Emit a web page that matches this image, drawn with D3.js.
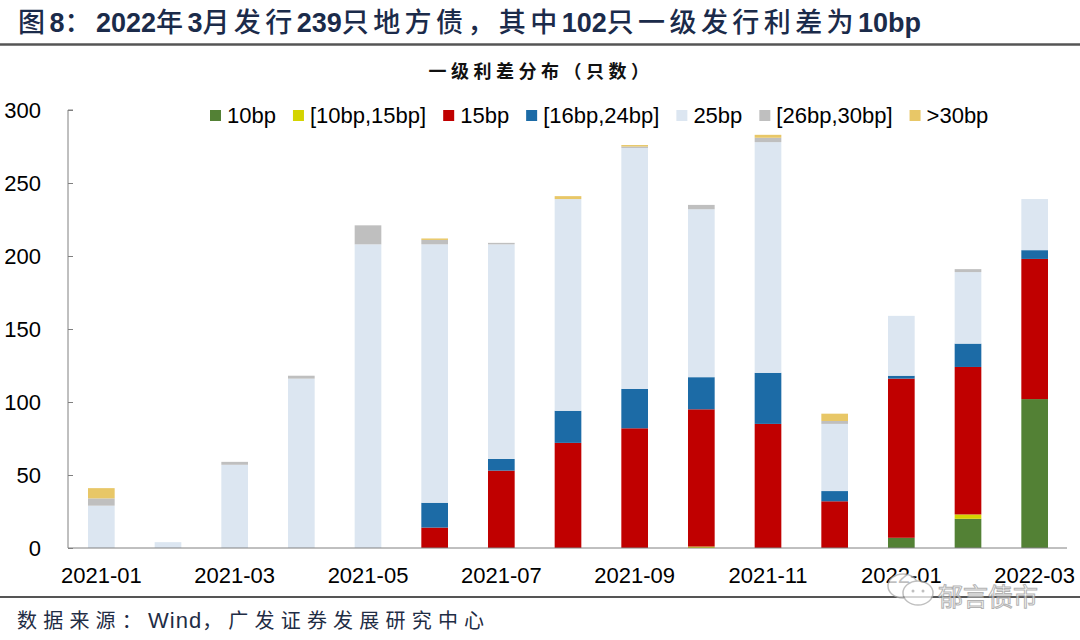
<!DOCTYPE html>
<html><head><meta charset="utf-8">
<script src="https://cdn.jsdelivr.net/npm/d3@7/dist/d3.min.js"></script>
<style>body{margin:0;background:#fff;}svg{display:block;}</style>
</head><body>
<svg id="chart" width="1080" height="640"></svg>
<script>
const months = ["2021-01","2021-02","2021-03","2021-04","2021-05","2021-06","2021-07","2021-08","2021-09","2021-10","2021-11","2021-12","2022-01","2022-02","2022-03"];
const seriesNames = ["10bp","[10bp,15bp]","15bp","[16bp,24bp]","25bp","[26bp,30bp]",">30bp"];
const s10    = [0,0,0,0,0,0,0,0,0,0,0,0,7,20,102];
const s10_15 = [0,0,0,0,0,0,0,0,0,1,0,0,0,3,0];
const s15    = [0,0,0,0,0,14,53,72,82,94,85,32,109,101,96];
const s16_24 = [0,0,0,0,0,17,8,22,27,22,35,7,2,16,6];
const s25    = [29,4,57,116,208,177,147,145,165,115,158,46,41,49,35];
const s26_30 = [5,0,2,2,13,3,1,0,1,3,3,2,0,2,0];
const s30    = [7,0,0,0,0,1,0,2,1,0,2,5,0,0,0];
const yTicks = [0,50,100,150,200,250,300];
const xTickLabels = ["2021-01","2021-03","2021-05","2021-07","2021-09","2021-11","2022-01","2022-03"];
const colors = ["#538135","#d4d400","#c00000","#1c6ba6","#dce6f1","#bfbfbf","#e8c767"];

(function(){
const allSeries = [s10,s10_15,s15,s16_24,s25,s26_30,s30];
const table = months.map((m,i)=>{const o={month:m}; seriesNames.forEach((k,j)=>o[k]=allSeries[j][i]); return o;});

const svg = d3.select("#chart");
const pL = 68, pR = 1068, pT = 110, pB = 548;
const x = d3.scaleBand().domain(months).range([pL,pR]).paddingInner(0.6).paddingOuter(0.3);
const y = d3.scaleLinear().domain([0,300]).range([pB,pT]);

// Title
const titleSegs = [["图","c"],["8","d"],["：","c"],["2022","d"],["年","c"],["3","d"],["月发行","c"],["239","d"],["只地方债，其中","c"],["102","d"],["只一级发行利差为","c"],["10bp","d"]];
const title = svg.append("text").attr("x",18).attr("y",31.5).attr("fill","#1b2b4a").attr("font-size",27);
titleSegs.forEach(([t,k])=>{
  const ts = title.append("tspan").text(t);
  if(k==="d") ts.attr("font-family","Liberation Sans, Arial, sans-serif").attr("font-weight","bold");
  else ts.attr("class","cjk").attr("font-family","Noto Sans CJK SC, sans-serif").attr("font-weight","500");
});
{
  const targetW = 903;
  const w0 = title.node().getComputedTextLength();
  const nC = titleSegs.filter(s=>s[1]==="c").reduce((a,s)=>a+s[0].length,0);
  const ls = Math.max(0,(targetW-w0)/nC);
  title.selectAll("tspan.cjk").attr("letter-spacing",ls);
}
svg.append("line").attr("x1",0).attr("x2",1080).attr("y1",44.5).attr("y2",44.5).attr("stroke","#555").attr("stroke-width",2.5);

// Subtitle
svg.append("text").attr("x",541).attr("y",78).attr("text-anchor","middle")
  .attr("font-family","Noto Sans CJK SC, sans-serif").attr("font-weight","bold").attr("font-size",18)
  .attr("letter-spacing",4.5).attr("fill","#111").text("一级利差分布（只数）");

// Bars
const stack = d3.stack().keys(seriesNames)(table);
svg.append("g").selectAll("g").data(stack).join("g").attr("fill",(d,i)=>colors[i])
  .selectAll("rect").data(d=>d).join("rect")
  .attr("x",d=>x(d.data.month)).attr("width",x.bandwidth())
  .attr("y",d=>y(d[1])).attr("height",d=>Math.max(0,y(d[0])-y(d[1])));

// Y axis
const yAxis = svg.append("g").attr("transform",`translate(${pL},0)`)
  .call(d3.axisRight(y).tickValues(yTicks).tickSize(5).tickFormat(""));
yAxis.select(".domain").attr("stroke","#808080").attr("d",`M5,${pT}H0V${pB}`);
yAxis.selectAll(".tick line").attr("stroke","#808080");
svg.append("g").selectAll("text").data(yTicks).join("text")
  .attr("x",41).attr("y",d=>y(d)+8).attr("text-anchor","end")
  .attr("font-family","Liberation Sans, Arial, sans-serif").attr("font-size",22).attr("fill","#000").text(d=>d);

// X axis
const xAxis = svg.append("g").attr("transform",`translate(0,${pB})`)
  .call(d3.axisBottom(x).tickValues(xTickLabels).tickSize(0).tickPadding(0));
xAxis.select(".domain").attr("stroke","#808080").attr("d",`M${pL},0H${pR-1}`);
xAxis.selectAll(".tick text").attr("font-family","Liberation Sans, Arial, sans-serif").attr("font-size",22)
  .attr("fill","#000").attr("dy",null).attr("y",35);

// Legend
let lx = 210;
const lg = svg.append("g");
seriesNames.forEach((n,i)=>{
  lg.append("rect").attr("x",lx).attr("y",110).attr("width",11).attr("height",11).attr("fill",colors[i]);
  const t = lg.append("text").attr("x",lx+17).attr("y",123).attr("font-family","Liberation Sans, Arial, sans-serif")
    .attr("font-size",22).attr("fill","#000").text(n);
  lx = lx + 17 + t.node().getComputedTextLength() + 17;
});

// Footer
svg.append("line").attr("x1",0).attr("x2",1080).attr("y1",597).attr("y2",597).attr("stroke","#555").attr("stroke-width",2);
const ft = svg.append("text").attr("x",17).attr("y",628).attr("font-family","Noto Sans CJK SC, sans-serif").attr("font-size",20)
  .attr("fill","#1f2d45");
ft.append("tspan").attr("letter-spacing",6.2).text("数据来源：");
ft.append("tspan").attr("font-family","Liberation Sans, Arial, sans-serif").attr("font-size",22).attr("letter-spacing",1).text("Wind");
ft.append("tspan").attr("letter-spacing",6.2).text("，广发证券发展研究中心");

// Watermark
const wm = svg.append("g").attr("opacity",0.75);
wm.append("ellipse").attr("cx",903).attr("cy",586).attr("rx",15).attr("ry",12).attr("fill","#fff").attr("stroke","#aaa").attr("stroke-width",1.5);
wm.append("ellipse").attr("cx",918).attr("cy",593).attr("rx",15).attr("ry",12).attr("fill","#fff").attr("stroke","#aaa").attr("stroke-width",1.5);
wm.append("circle").attr("cx",913).attr("cy",591).attr("r",1.5).attr("fill","#aaa");
wm.append("circle").attr("cx",923).attr("cy",591).attr("r",1.5).attr("fill","#aaa");
wm.append("text").attr("x",938).attr("y",606).attr("font-family","Noto Sans CJK SC, sans-serif").attr("font-size",25)
  .attr("fill","#fff").attr("stroke","#999").attr("stroke-width",1).text("郁言债市");
})();
</script>
</body></html>
